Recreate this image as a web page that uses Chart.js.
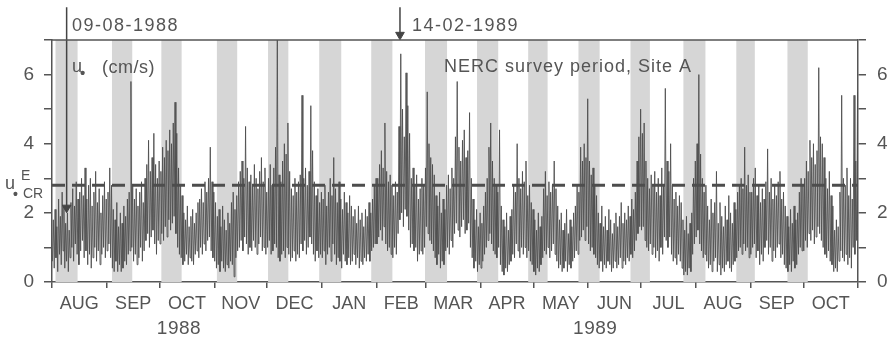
<!DOCTYPE html>
<html>
<head>
<meta charset="utf-8">
<script src="https://cdn.jsdelivr.net/npm/chart.js@4.4.1/dist/chart.umd.min.js"></script>
<style>
  html, body { margin: 0; padding: 0; background: #fff; }
  #wrap { width: 895px; height: 340px; }
</style>
</head>
<body>
<div id="wrap"><canvas id="ustarChart" width="895" height="340"></canvas></div>
<script>
// u* time series, NERC survey period, Site A (Aug 1988 - Oct 1989)
// x = day number from 1 Aug 1988

const monthLabels = ['AUG', 'SEP', 'OCT', 'NOV', 'DEC', 'JAN', 'FEB', 'MAR', 'APR', 'MAY', 'JUN', 'JUL', 'AUG', 'SEP', 'OCT'];
const monthStarts = [0, 31, 61, 92, 122, 153, 184, 212, 243, 273, 304, 334, 365, 396, 426, 457];
const yearLabels = ['1988', '1989'];
const yearDays = [72, 308];

// shaded periods (day from / day to)
const bandStart = [2, 34, 62, 93.5, 122.5, 151.5, 181, 211.5, 241, 270, 298.5, 328, 358, 388, 417];
const bandEnd = [14.5, 45.5, 73.5, 105, 134, 164, 193, 224, 253, 281, 310.5, 339, 370.5, 398.5, 428.5];

const criticalU = 2.8;

// daily peak values (cm/s), one row per month
const dailyHigh = [
  1.8, 2.1, 1.6, 2.4, 1.9, 2.6, 2.2, 1.7, 2.0, 1.5, 2.3, 2.7, 2.2, 2.9, 2.4, 2.6, 3.0, 2.5, 3.3, 2.4, 2.8, 3.0, 2.2, 2.6, 3.2, 2.3, 2.7, 2.0, 2.5, 2.9, 2.4,
  2.6, 3.3, 2.8, 2.1, 1.8, 2.3, 1.6, 2.0, 1.7, 2.2, 1.9, 2.4, 2.6, 5.8, 2.8, 2.4, 2.7, 2.2, 2.6, 2.9, 2.3, 3.0, 3.4, 4.1, 3.2, 3.6, 4.3, 3.4, 3.0, 3.5,
  3.2, 3.9, 3.6, 4.1, 3.8, 4.4, 4.0, 4.6, 5.2, 4.3, 3.3, 2.8, 2.5, 2.0, 1.8, 2.2, 1.6, 1.9, 2.1, 1.7, 2.0, 2.3, 2.4, 2.7, 2.3, 2.9, 2.6, 3.0, 3.9, 2.9, 2.6,
  2.3, 1.9, 2.1, 1.6, 2.2, 1.8, 1.5, 2.0, 1.7, 2.3, 2.6, 2.1, 2.5, 2.9, 3.2, 3.5, 3.0, 4.5, 3.3, 2.9, 3.1, 2.8, 3.4, 3.0, 2.7, 3.2, 3.6, 2.9, 3.3, 2.6,
  3.0, 3.4, 2.8, 3.3, 3.9, 7.3, 3.1, 2.9, 3.5, 4.0, 3.7, 4.6, 3.2, 2.7, 2.5, 3.0, 2.6, 2.9, 3.1, 5.4, 3.0, 3.3, 2.8, 3.2, 5.1, 3.8, 2.9, 2.5, 2.7, 2.3, 2.6,
  2.4, 2.8, 2.2, 2.6, 3.0, 2.5, 3.6, 2.7, 2.3, 2.9, 2.4, 2.1, 2.6, 2.3, 2.0, 2.5, 2.2, 1.9, 2.1, 1.7, 2.2, 1.8, 2.0, 1.6, 2.1, 1.9, 2.3, 2.0, 2.4, 2.8, 3.0,
  3.0, 3.4, 3.8, 3.3, 4.6, 3.2, 2.9, 3.1, 2.8, 2.5, 2.9, 2.6, 4.5, 6.6, 5.0, 4.2, 6.05, 5.1, 4.3, 3.0, 3.3, 2.8, 3.1, 2.4, 2.7, 3.0, 2.8, 3.3,
  5.5, 4.0, 3.6, 3.4, 3.1, 2.5, 2.2, 2.6, 2.0, 2.4, 2.1, 2.8, 3.1, 2.7, 3.3, 3.0, 4.2, 5.8, 3.9, 3.5, 4.1, 4.4, 3.6, 3.8, 4.9, 3.0, 2.4, 1.8, 2.1, 1.6, 2.0,
  1.7, 2.2, 2.6, 3.0, 3.9, 4.6, 3.5, 3.0, 2.8, 2.6, 4.4, 2.2, 1.8, 1.6, 2.0, 1.5, 1.9, 2.1, 2.8, 2.6, 4.0, 3.0, 2.7, 3.2, 2.9, 3.5, 2.5, 2.8, 2.3, 2.1,
  1.8, 1.5, 2.0, 1.6, 1.9, 2.7, 3.2, 2.5, 2.9, 2.6, 2.8, 3.5, 2.7, 2.2, 1.8, 2.0, 1.5, 1.7, 2.1, 1.4, 1.8, 1.6, 2.0, 2.2, 2.8, 2.6, 3.9, 3.5, 4.0, 3.6, 5.3,
  3.5, 3.1, 3.3, 2.8, 2.5, 2.0, 1.7, 2.2, 1.6, 1.9, 1.5, 2.1, 1.8, 1.4, 1.7, 2.0, 1.6, 1.9, 2.3, 1.7, 2.0, 1.8, 2.2, 1.9, 2.4, 2.1, 2.6, 3.5, 4.2, 5.0,
  4.3, 4.6, 3.5, 3.0, 2.7, 3.1, 2.8, 3.2, 2.6, 3.0, 2.5, 3.3, 2.8, 5.6, 3.5, 3.2, 4.0, 2.8, 2.4, 2.6, 2.2, 2.5, 2.3, 1.8, 1.5, 1.9, 1.4, 1.7, 2.0, 3.0, 3.5,
  4.0, 6.0, 3.7, 3.0, 2.6, 2.8, 2.2, 1.8, 2.4, 2.0, 2.3, 3.2, 1.7, 2.3, 1.9, 1.6, 2.2, 1.8, 2.5, 2.0, 1.7, 2.3, 2.1, 2.6, 2.8, 3.0, 2.7, 3.9, 2.8, 3.1, 2.6,
  2.6, 3.0, 3.3, 2.5, 2.8, 2.3, 2.7, 2.4, 2.9, 3.85, 2.6, 3.0, 2.4, 2.8, 2.5, 2.9, 3.2, 2.4, 2.6, 2.2, 1.9, 1.6, 2.1, 1.7, 2.2, 1.8, 2.0, 2.6, 3.0, 2.8,
  3.0, 3.5, 3.2, 4.1, 3.6, 4.0, 3.4, 3.8, 6.2, 4.2, 4.0, 3.6, 3.0, 2.7, 3.2, 2.5, 2.2, 1.5, 1.8, 1.6, 2.6, 5.4, 3.0, 2.8, 3.3, 2.5, 3.0, 2.4, 5.4, 3.5, 5.5
];

// daily low values (cm/s)
const dailyLow = [
  0.6, 0.4, 0.7, 0.3, 0.8, 0.5, 0.9, 0.4, 0.6, 0.3, 0.7, 1.0, 0.6, 1.1, 0.8, 0.5, 0.9, 1.2, 0.7, 0.9, 0.5, 0.8, 0.4, 0.7, 1.0, 0.6, 0.9, 0.5, 0.8, 1.0, 0.7,
  0.9, 1.1, 0.7, 0.4, 0.3, 0.6, 0.3, 0.5, 0.3, 0.4, 0.6, 0.5, 0.8, 0.9, 1.0, 0.6, 0.8, 0.5, 0.7, 1.0, 0.6, 0.9, 1.2, 1.4, 1.0, 1.3, 1.5, 1.1, 0.8, 1.2,
  1.1, 1.4, 1.2, 1.6, 1.3, 1.8, 1.5, 1.7, 1.9, 1.4, 1.0, 0.8, 0.7, 0.5, 0.6, 0.8, 0.5, 0.7, 0.6, 0.5, 0.8, 0.9, 0.7, 1.0, 0.8, 1.1, 0.9, 1.2, 1.3, 0.9, 0.7,
  0.6, 0.4, 0.5, 0.3, 0.6, 0.4, 0.3, 0.5, 0.4, 0.6, 0.5, 0.15, 0.7, 0.9, 1.0, 1.2, 0.9, 1.3, 1.1, 0.8, 1.0, 0.9, 1.2, 1.0, 0.8, 1.1, 1.3, 0.9, 1.0, 0.8,
  1.0, 1.2, 0.8, 0.9, 1.1, 1.0, 0.7, 0.6, 0.8, 0.9, 0.7, 1.0, 0.8, 0.6, 0.7, 0.9, 0.6, 0.8, 0.7, 1.1, 0.9, 1.2, 0.8, 1.0, 1.3, 1.1, 0.8, 0.6, 0.9, 0.7, 0.8,
  0.7, 0.9, 0.5, 0.8, 1.0, 0.6, 1.1, 0.8, 0.5, 0.7, 0.6, 0.4, 0.8, 0.6, 0.5, 0.7, 0.5, 0.6, 0.8, 0.5, 0.7, 0.4, 0.6, 0.5, 0.7, 0.6, 0.8, 0.6, 0.9, 1.0, 1.1,
  1.1, 1.3, 1.5, 1.2, 1.6, 1.1, 0.9, 1.0, 0.8, 0.7, 1.0, 0.8, 1.4, 1.8, 2.0, 1.6, 2.1, 1.9, 1.5, 1.0, 1.1, 0.9, 1.0, 0.6, 0.8, 0.9, 0.8, 1.0,
  1.6, 1.4, 1.2, 1.1, 0.9, 0.7, 0.5, 0.8, 0.4, 0.6, 0.5, 0.9, 1.0, 0.8, 1.2, 1.0, 1.4, 1.7, 1.5, 1.3, 1.6, 1.8, 1.4, 1.5, 1.7, 1.0, 0.7, 0.4, 0.6, 0.3, 0.5,
  0.4, 0.6, 0.8, 1.0, 1.2, 1.4, 1.1, 0.9, 0.8, 0.7, 1.0, 0.5, 0.3, 0.2, 0.4, 0.3, 0.5, 0.6, 0.8, 0.7, 1.1, 0.9, 0.7, 1.0, 0.8, 1.0, 0.7, 0.9, 0.6, 0.5,
  0.3, 0.2, 0.4, 0.3, 0.5, 0.7, 0.9, 0.8, 1.0, 0.7, 0.9, 1.1, 0.8, 0.6, 0.4, 0.5, 0.3, 0.4, 0.6, 0.3, 0.5, 0.4, 0.6, 0.7, 0.9, 0.8, 1.2, 1.3, 1.5, 1.2, 1.6,
  1.1, 0.9, 1.0, 0.8, 0.7, 0.5, 0.4, 0.6, 0.3, 0.5, 0.4, 0.6, 0.5, 0.3, 0.4, 0.6, 0.4, 0.5, 0.7, 0.4, 0.6, 0.5, 0.7, 0.6, 0.8, 0.7, 0.9, 1.2, 1.4, 1.6,
  1.5, 1.6, 1.2, 1.0, 0.9, 1.1, 0.8, 1.0, 0.7, 0.9, 0.6, 1.0, 0.8, 1.3, 1.2, 1.0, 1.3, 0.8, 0.6, 0.7, 0.5, 0.8, 0.6, 0.4, 0.2, 0.3, 0.2, 0.4, 0.3, 0.8, 1.1,
  1.3, 1.5, 1.1, 0.9, 0.7, 0.8, 0.6, 0.4, 0.5, 0.3, 0.6, 0.7, 0.3, 0.5, 0.2, 0.4, 0.3, 0.5, 0.6, 0.4, 0.3, 0.5, 0.6, 0.7, 0.9, 1.0, 0.8, 1.1, 0.9, 1.0, 0.7,
  0.8, 1.0, 1.1, 0.7, 0.9, 0.5, 0.8, 0.6, 1.0, 1.2, 0.8, 1.0, 0.6, 0.9, 0.7, 1.0, 1.1, 0.7, 0.8, 0.5, 0.4, 0.3, 0.5, 0.3, 0.6, 0.4, 0.5, 0.8, 1.0, 0.9,
  0.9, 1.2, 1.0, 1.4, 1.2, 1.5, 1.1, 1.3, 1.6, 1.4, 1.2, 1.0, 0.8, 0.7, 0.9, 0.6, 0.5, 0.3, 0.4, 0.3, 0.6, 0.9, 0.7, 0.6, 0.8, 0.5, 0.7, 0.4, 1.0, 0.8, 1.2
];

const ink = '#555555';
const font = 'Liberation Sans, Arial, Helvetica, sans-serif';

// interleave troughs and peaks to get the dense record
const series = [];
for (let d = 0; d < dailyHigh.length; d++) {
    series.push({ x: d + 0.25, y: dailyLow[d] });
    series.push({ x: d + 0.75, y: dailyHigh[d] });
}

const monthMids = monthLabels.map((m, i) => (monthStarts[i] + monthStarts[i + 1]) / 2);

const bandsPlugin = {
    id: 'bands',
    beforeDatasetsDraw(chart) {
        const { ctx, chartArea, scales } = chart;
        ctx.save();
        ctx.fillStyle = '#d6d6d6';
        bandStart.forEach((s, i) => {
            const x0 = scales.x.getPixelForValue(s);
            const x1 = scales.x.getPixelForValue(bandEnd[i]);
            ctx.fillRect(x0, chartArea.top, x1 - x0, chartArea.bottom - chartArea.top);
        });
        ctx.restore();
    },
    afterDatasetsDraw(chart) {
        const { ctx, chartArea } = chart;
        ctx.save();
        ctx.strokeStyle = ink;
        ctx.lineWidth = 1.5;
        ctx.beginPath();
        ctx.moveTo(chartArea.left, chartArea.top);
        ctx.lineTo(chartArea.right, chartArea.top);
        ctx.stroke();
        ctx.restore();
    }
};

const textPlugin = {
    id: 'labels',
    afterDraw(chart) {
        const { ctx, scales } = chart;
        ctx.save();
        ctx.fillStyle = ink;
        ctx.textBaseline = 'alphabetic';
        ctx.textAlign = 'left';
        ctx.letterSpacing = '1.5px';
        ctx.font = '18px ' + font;
        ctx.fillText('09-08-1988', 72, 31);
        ctx.fillText('14-02-1989', 412, 31);
        ctx.letterSpacing = '1px';
        ctx.fillText('NERC survey period, Site A', 444, 72);
        // u* (cm/s)
        ctx.letterSpacing = '0.5px';
        ctx.fillText('u', 72, 72);
        ctx.fillText('(cm/s)', 102, 73);
        ctx.font = 'bold 15px ' + font;
        ctx.fillText('•', 80, 78);
        // u*CR^E at the threshold
        ctx.letterSpacing = '0px';
        ctx.font = '18px ' + font;
        ctx.fillText('u', 5, 189);
        ctx.font = '14px ' + font;
        ctx.fillText('E', 21, 180);
        ctx.fillText('CR', 23, 198);
        ctx.font = 'bold 14px ' + font;
        ctx.fillText('•', 13, 199);
        // years
        ctx.letterSpacing = '0.5px';
        ctx.font = '19px ' + font;
        ctx.textAlign = 'center';
        yearLabels.forEach((y, i) => {
            ctx.fillText(y, scales.x.getPixelForValue(yearDays[i]), 334);
        });
        ctx.restore();
    }
};

const yTicks = {
    color: ink,
    font: { size: 19, family: font },
    stepSize: 1,
    padding: 10,
    callback: v => (v % 2 === 0 && v < 7 ? String(v) : '')
};

const arrowStyle = {
    borderColor: '#444',
    borderWidth: 1.5,
    pointRadius: [0, 5],
    pointStyle: 'triangle',
    pointRotation: 180,
    pointBackgroundColor: '#444',
    pointBorderColor: '#444',
    pointBorderWidth: 1,
    clip: false
};

new Chart(document.getElementById('ustarChart'), {
    type: 'line',
    data: {
        datasets: [
            Object.assign({
                // arrow 09-08-1988
                data: [{ x: 8.3, y: 7.95 }, { x: 8.3, y: 2.15 }]
            }, arrowStyle),
            Object.assign({
                // arrow 14-02-1989
                data: [{ x: 197.3, y: 7.95 }, { x: 197.3, y: 7.15 }]
            }, arrowStyle),
            {
                // threshold line
                data: [{ x: 0, y: criticalU }, { x: 457, y: criticalU }],
                borderColor: '#4d4d4d',
                borderWidth: 3,
                borderDash: [13, 7],
                pointRadius: 0
            },
            {
                label: 'u*',
                data: series,
                borderColor: 'rgba(75,75,75,0.85)',
                borderWidth: 1,
                pointRadius: 0,
                tension: 0
            }
        ]
    },
    options: {
        responsive: false,
        animation: false,
        events: [],
        layout: { padding: { top: 40, left: 0, right: 0, bottom: 0 } },
        plugins: {
            legend: { display: false },
            tooltip: { enabled: false }
        },
        scales: {
            x: {
                type: 'linear',
                min: 0,
                max: 457,
                afterBuildTicks: scale => {
                    scale.ticks = monthStarts.concat(monthMids).sort((a, b) => a - b).map(v => ({ value: v }));
                },
                afterFit: scale => { scale.height = 58; },
                ticks: {
                    autoSkip: false,
                    maxRotation: 0,
                    minRotation: 0,
                    padding: 5,
                    color: ink,
                    font: { size: 18, family: font },
                    callback: v => {
                        const i = monthMids.indexOf(v);
                        return i >= 0 ? monthLabels[i] : '';
                    }
                },
                grid: {
                    drawOnChartArea: false,
                    tickLength: 6,
                    lineWidth: 1.5,
                    tickColor: ctx => (monthMids.includes(ctx.tick && ctx.tick.value) ? 'rgba(0,0,0,0)' : ink)
                },
                border: { display: true, color: ink, width: 1.5 }
            },
            y: {
                position: 'left',
                min: 0,
                max: 7,
                afterFit: scale => { scale.width = 52; },
                ticks: yTicks,
                grid: { drawOnChartArea: false, tickLength: 8, tickColor: ink, lineWidth: 1.5 },
                border: { display: true, color: ink, width: 1.5 }
            },
            y2: {
                position: 'right',
                min: 0,
                max: 7,
                afterFit: scale => { scale.width = 37; },
                ticks: Object.assign({}, yTicks, { padding: 11 }),
                grid: { drawOnChartArea: false, tickLength: 8, tickColor: ink, lineWidth: 1.5 },
                border: { display: true, color: ink, width: 1.5 }
            }
        }
    },
    plugins: [bandsPlugin, textPlugin]
});
</script>
</body>
</html>
